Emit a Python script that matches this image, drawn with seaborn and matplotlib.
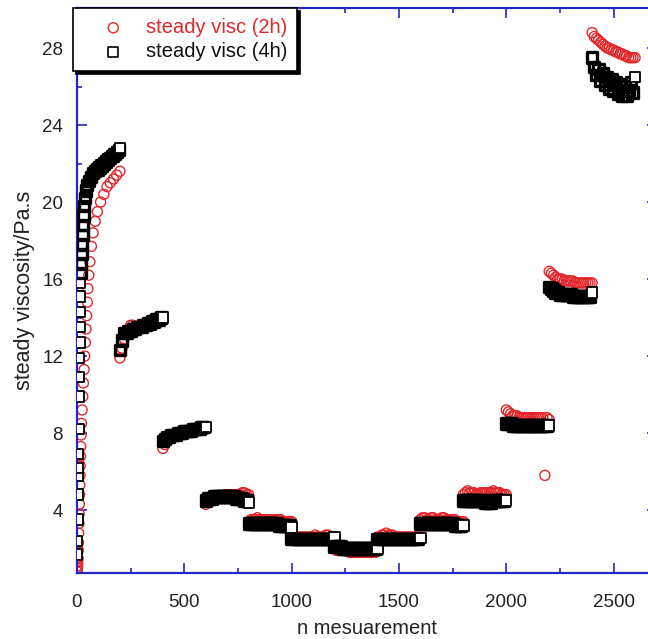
import numpy as np
import pandas as pd
import matplotlib
matplotlib.use("Agg")
import matplotlib.pyplot as plt
import seaborn as sns

# first run-up (0-200), irregular spacing
ramp_x_2h = [0, 1, 2, 3, 4, 5, 6, 7, 8, 9, 10, 11, 12, 13, 14, 15, 16, 17, 19, 21,
             24, 27, 30, 33, 36, 39, 42, 45, 48, 51, 55, 60, 67, 75, 85, 95, 110,
             125, 140, 155, 170, 185, 200]
ramp_y_2h = [0.8, 0.9, 1.0, 1.1, 1.3, 1.5, 1.9, 2.3, 2.8, 3.3, 3.8, 4.3, 4.8, 5.3,
             5.8, 6.3, 6.8, 7.3, 7.9, 8.5, 9.2, 9.9, 10.6, 11.3, 12.0, 12.7, 13.4,
             14.1, 14.8, 15.5, 16.2, 16.9, 17.7, 18.4, 19.0, 19.5, 20.0, 20.4, 20.8,
             21.0, 21.2, 21.4, 21.6]
ramp_x_4h = [0, 1, 2, 3, 4, 5, 6, 7, 8, 9, 10, 11, 12, 13, 14, 15, 17, 19, 21, 23,
             25, 27, 30, 33, 37, 42, 48, 55, 65, 75, 85, 95, 105, 115, 125, 135,
             145, 155, 165, 175, 185, 195, 200]
ramp_y_4h = [1.7, 2.4, 3.5, 4.8, 5.8, 6.2, 6.9, 8.2, 9.9, 10.9, 11.9, 12.7, 13.5,
             14.3, 15.1, 15.8, 16.3, 16.8, 17.3, 17.8, 18.3, 18.8, 19.3, 19.8, 20.2,
             20.6, 20.9, 21.1, 21.3, 21.5, 21.6, 21.7, 21.8, 21.9, 22.0, 22.1, 22.2,
             22.3, 22.4, 22.5, 22.6, 22.7, 22.8]

# plateau segments, one reading every 10 measurements
seg_start = [200, 400, 600, 800, 1000, 1200, 1400, 1600, 1800, 2000, 2200, 2400]
seg_2h = [
    [11.9, 12.4, 12.9, 13.2, 13.4, 13.6, 13.6, 13.5, 13.5, 13.5, 13.5, 13.6, 13.6, 13.6, 13.7, 13.7, 13.7, 13.8, 13.8, 13.8, 13.9],
    [7.2, 7.4, 7.6, 7.7, 7.8, 7.8, 7.9, 7.9, 8.0, 8.0, 8.0, 8.0, 8.1, 8.1, 8.1, 8.1, 8.1, 8.2, 8.2, 8.2, 8.2],
    [4.3, 4.4, 4.5, 4.6, 4.6, 4.7, 4.7, 4.7, 4.7, 4.8, 4.8, 4.8, 4.8, 4.8, 4.8, 4.8, 4.8, 4.9, 4.9, 4.8, 4.8],
    [3.4, 3.5, 3.5, 3.5, 3.6, 3.5, 3.5, 3.5, 3.5, 3.5, 3.5, 3.5, 3.5, 3.5, 3.5, 3.5, 3.4, 3.4, 3.4, 3.4, 3.4],
    [2.6, 2.6, 2.6, 2.6, 2.6, 2.6, 2.6, 2.6, 2.6, 2.6, 2.6, 2.7, 2.6, 2.6, 2.6, 2.6, 2.7, 2.7, 2.6, 2.6, 2.6],
    [2.0, 1.9, 1.9, 1.9, 1.9, 1.9, 1.9, 1.8, 1.8, 1.8, 1.8, 1.8, 1.8, 1.8, 1.8, 1.8, 1.8, 1.8, 1.8, 1.8, 1.9],
    [2.6, 2.6, 2.7, 2.7, 2.8, 2.7, 2.7, 2.7, 2.6, 2.6, 2.6, 2.6, 2.6, 2.6, 2.6, 2.6, 2.6, 2.6, 2.6, 2.6, 2.6],
    [3.5, 3.6, 3.6, 3.5, 3.5, 3.6, 3.6, 3.5, 3.5, 3.5, 3.6, 3.6, 3.5, 3.5, 3.5, 3.5, 3.5, 3.4, 3.4, 3.4, 3.4],
    [4.8, 4.9, 5.0, 4.9, 4.9, 4.9, 4.8, 4.8, 4.9, 4.9, 4.9, 4.9, 4.9, 4.9, 5.0, 4.9, 4.9, 4.9, 4.8, 4.8, 4.8],
    [9.2, 9.1, 9.0, 8.9, 8.9, 8.9, 8.8, 8.8, 8.8, 8.8, 8.8, 8.8, 8.8, 8.8, 8.8, 8.8, 8.8, 8.8, 5.8, 8.8, 8.7],
    [16.4, 16.3, 16.2, 16.1, 16.0, 16.0, 16.0, 15.9, 15.9, 15.9, 15.9, 15.9, 15.8, 15.8, 15.8, 15.8, 15.8, 15.8, 15.8, 15.8, 15.8],
    [28.8, 28.6, 28.5, 28.4, 28.3, 28.2, 28.1, 28.0, 28.0, 27.9, 27.9, 27.8, 27.8, 27.7, 27.7, 27.6, 27.6, 27.5, 27.5, 27.5, 27.5],
]
seg_4h = [
    [12.3, 12.8, 13.2, 13.2, 13.3, 13.3, 13.4, 13.4, 13.5, 13.5, 13.5, 13.6, 13.6, 13.7, 13.7, 13.8, 13.8, 13.9, 13.9, 14.0, 14.0],
    [7.6, 7.7, 7.8, 7.8, 7.9, 7.9, 7.9, 8.0, 8.0, 8.0, 8.1, 8.1, 8.1, 8.1, 8.2, 8.2, 8.2, 8.2, 8.3, 8.3, 8.3],
    [4.5, 4.6, 4.6, 4.6, 4.7, 4.7, 4.7, 4.7, 4.7, 4.7, 4.7, 4.7, 4.7, 4.7, 4.6, 4.6, 4.6, 4.6, 4.5, 4.5, 4.4],
    [3.3, 3.3, 3.3, 3.3, 3.3, 3.3, 3.3, 3.3, 3.3, 3.3, 3.3, 3.3, 3.3, 3.3, 3.2, 3.2, 3.2, 3.2, 3.2, 3.2, 3.1],
    [2.5, 2.5, 2.5, 2.5, 2.5, 2.5, 2.5, 2.5, 2.5, 2.5, 2.5, 2.5, 2.5, 2.5, 2.5, 2.5, 2.5, 2.5, 2.5, 2.5, 2.6],
    [2.1, 2.1, 2.1, 2.1, 2.0, 2.0, 2.0, 2.0, 2.0, 2.0, 2.0, 2.0, 2.0, 2.0, 2.0, 2.0, 2.0, 2.0, 2.0, 2.0, 2.0],
    [2.5, 2.5, 2.5, 2.5, 2.5, 2.5, 2.5, 2.5, 2.5, 2.5, 2.5, 2.5, 2.5, 2.5, 2.5, 2.5, 2.5, 2.5, 2.5, 2.5, 2.55],
    [3.3, 3.3, 3.3, 3.3, 3.3, 3.3, 3.3, 3.3, 3.3, 3.3, 3.3, 3.3, 3.3, 3.3, 3.3, 3.3, 3.2, 3.2, 3.2, 3.2, 3.2],
    [4.5, 4.5, 4.5, 4.5, 4.5, 4.5, 4.5, 4.5, 4.5, 4.5, 4.4, 4.4, 4.4, 4.4, 4.5, 4.5, 4.5, 4.5, 4.5, 4.5, 4.5],
    [8.5, 8.5, 8.5, 8.4, 8.4, 8.4, 8.4, 8.4, 8.4, 8.4, 8.4, 8.4, 8.4, 8.4, 8.4, 8.4, 8.4, 8.4, 8.4, 8.4, 8.4],
    [15.6, 15.5, 15.4, 15.3, 15.3, 15.2, 15.2, 15.2, 15.2, 15.2, 15.2, 15.1, 15.1, 15.1, 15.1, 15.1, 15.1, 15.1, 15.1, 15.1, 15.3],
    [27.5, 27.0, 26.6, 26.9, 26.3, 26.7, 26.1, 26.5, 25.9, 26.4, 25.8, 26.2, 25.6, 26.1, 25.5, 26.0, 25.5, 25.8, 26.2, 25.7, 26.5],
]
seg_step = 10


def build(ramp_x, ramp_y, segs):
    xs = list(ramp_x)
    ys = list(ramp_y)
    last = [False] * (len(xs) - 1) + [True]
    for start, vals in zip(seg_start, segs):
        xs += [start + seg_step * i for i in range(len(vals))]
        ys += vals
        last += [False] * (len(vals) - 1) + [True]
    return pd.DataFrame({"n": xs, "visc": ys, "last": last})


df2 = build(ramp_x_2h, ramp_y_2h, seg_2h)
df4 = build(ramp_x_4h, ramp_y_4h, seg_4h)

sns.set_style("ticks")
plt.rcParams["font.family"] = ["Liberation Sans", "DejaVu Sans"]

blue = "#2626c4"
red = "#e3262b"

fig = plt.figure(figsize=(6.48, 6.39), dpi=100)
ax = fig.add_axes([77 / 648, 66 / 639, 579.5 / 648, 565 / 639])

# dense readings pile up into solid bands; the final reading of each run,
# and the sparse first readings of the run-up, stay open
open_sq = df4["last"] | (df4.index < 16)
sq_face = np.where(open_sq, "white", "none")
sq_lw = np.where(open_sq, 1.3, 2.4)

sns.scatterplot(data=df2, x="n", y="visc", marker="o", s=52, facecolor="none",
                edgecolor=red, linewidth=1.0, label="steady visc (2h)", ax=ax, zorder=2)
sns.scatterplot(data=df4, x="n", y="visc", marker="s", s=56, facecolors=list(sq_face),
                edgecolor="black", linewidth=list(sq_lw), label="steady visc (4h)",
                ax=ax, zorder=3)

ax.set_xlim(0, 2700)
ax.set_ylim(0.73, 30.08)
ax.set_xticks([0, 500, 1000, 1500, 2000, 2500])
ax.set_xticks(np.arange(250, 2700, 500), minor=True)
ax.set_yticks([4, 8, 12, 16, 20, 24, 28])
ax.set_yticks([2, 6, 10, 14, 18, 22, 26, 30], minor=True)

for s in ax.spines.values():
    s.set_color(blue)
    s.set_linewidth(1.6)
ax.tick_params(which="both", direction="in", top=True, right=True, color=blue,
               width=1.2, labelsize=13.5, labelcolor="#222222")
ax.tick_params(which="major", length=7.5)
ax.tick_params(which="minor", length=3.6)
ax.tick_params(axis="x", pad=15)
ax.tick_params(axis="y", pad=10)

ax.set_xlabel("n mesuarement", fontsize=14.5, labelpad=6, color="#222222")
ax.set_ylabel("steady viscosity/Pa.s", fontsize=15.5, labelpad=5, color="#222222")

leg = ax.legend(loc="upper left", bbox_to_anchor=(73 / 648, 631 / 639),
                bbox_transform=fig.transFigure, borderaxespad=0, frameon=True,
                fancybox=False, shadow={"color": "black", "alpha": 1.0},
                framealpha=1, edgecolor="black", fontsize=14.5,
                handlelength=3.0, handletextpad=0.1, borderpad=0.5,
                labelspacing=0.25, scatterpoints=1)
leg.get_frame().set_linewidth(1.2)
leg.get_texts()[0].set_color(red)
leg.get_texts()[1].set_color("#111111")
h = leg.legend_handles[1]
h.set_facecolor("white")
h.set_linewidths([1.2])

fig.savefig("out.png", dpi=100)
